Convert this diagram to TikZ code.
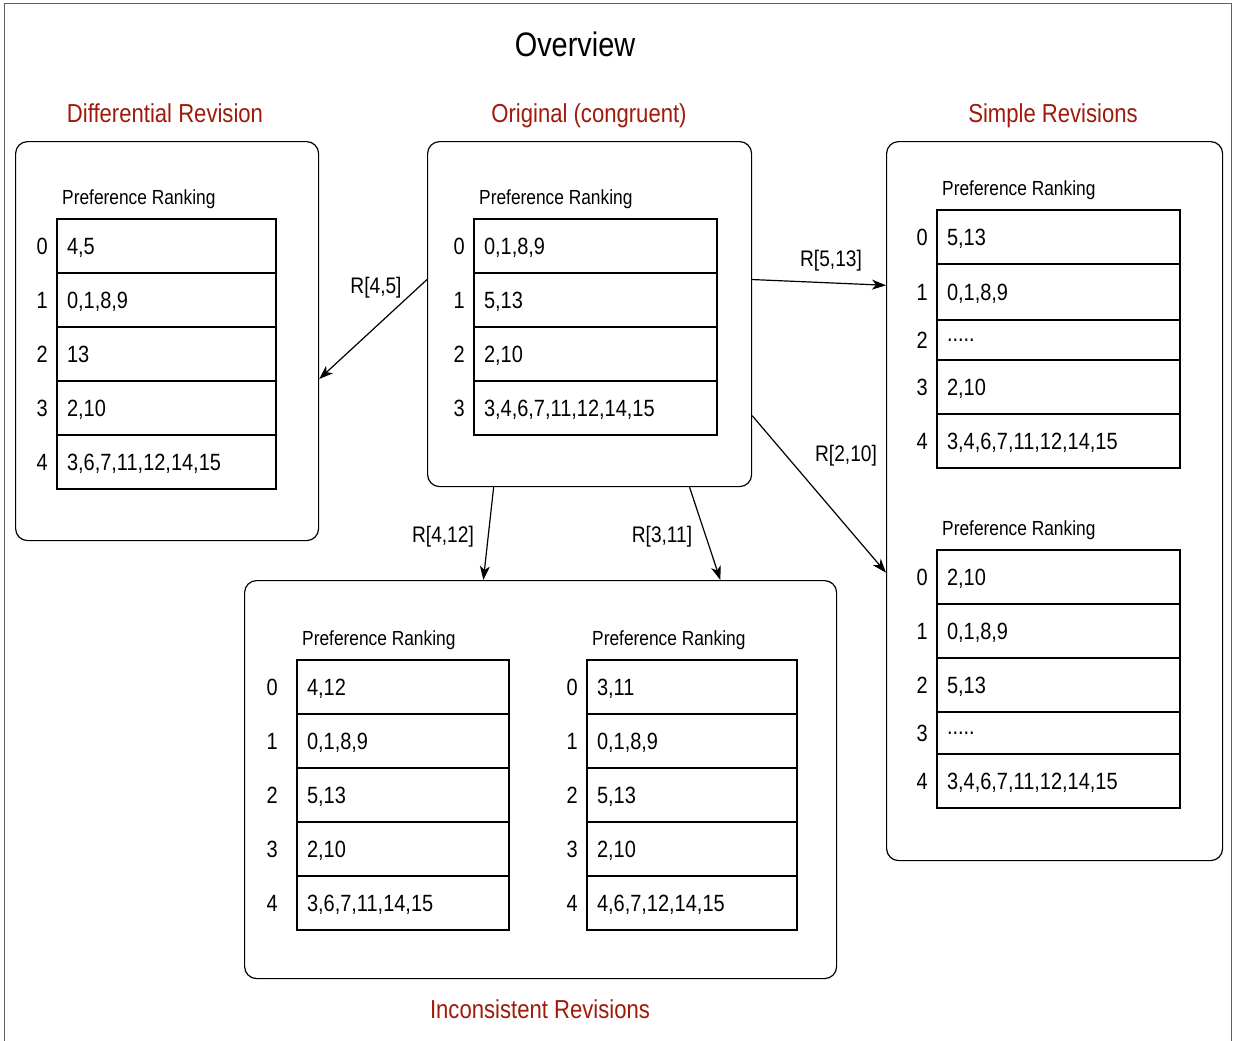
\documentclass[tikz,border=0pt]{standalone}
\usepackage{fontspec}
\setmainfont{Liberation Sans}[FakeStretch=0.85]
\usepackage{tikz}
\usetikzlibrary{positioning,arrows.meta}

\definecolor{titlered}{RGB}{160,25,10}
\definecolor{framegray}{RGB}{95,95,95}

\tikzset{
  frame/.style={draw=framegray, line width=1pt},
  heading/.style={inner sep=0pt, anchor=base, font=\fontsize{34}{40}\selectfont},
  section/.style={inner sep=0pt, anchor=base, text=titlered, font=\fontsize{26}{30}\selectfont},
  panel/.style={draw, rounded corners=12pt, line width=1.2pt, anchor=north west, inner sep=0pt},
  cell/.style={draw, line width=1.3pt, outer sep=0pt, anchor=north west, inner xsep=10pt, inner ysep=0pt,
    text width=#1, text depth=0pt, align=left, minimum height=54pt, font=\fontsize{23.5}{28}\selectfont},
  idx/.style={inner sep=0pt, font=\fontsize{23.5}{28}\selectfont},
  caption/.style={inner sep=0pt, font=\fontsize{20.4}{24}\selectfont},
  rlabel/.style={inner sep=0pt, font=\fontsize{22.5}{26}\selectfont},
  link/.style={-{Stealth[length=14pt, width=10pt, inset=4pt]}, line width=1.2pt}
}

\begin{document}
\begin{tikzpicture}[x=1pt,y=-1pt]
  \useasboundingbox (0,0) rectangle (1235,1041);
  % Frame
  \draw[frame] (4,1045) -- (4,4) -- (1231,4) -- (1231,1045);

  % Titles
  \node[heading] (overview) at (575,57) {Overview};
  \node[section] (difftitle) at (165,122) {Differential Revision};
  \node[section] (origtitle) at (589,122) {Original (congruent)};
  \node[section] (simpletitle) at (1053,122) {Simple Revisions};
  \node[section] (inctitle) at (540,1018) {Inconsistent Revisions};

  % Panels
  \node[panel, minimum width=303pt, minimum height=399pt] (diff) at (15,141) {};
  \node[panel, minimum width=324pt, minimum height=345pt] (orig) at (427,141) {};
  \node[panel, minimum width=336pt, minimum height=719pt] (simple) at (886,141) {};
  \node[panel, minimum width=592pt, minimum height=398pt] (incons) at (244,580) {};

  % Differential revision
  \node[cell=199pt] (d0) at (57,219) {4,5};
  \node[cell=199pt, below=0pt of d0] (d1) {0,1,8,9};
  \node[cell=199pt, below=0pt of d1] (d2) {13};
  \node[cell=199pt, below=0pt of d2] (d3) {2,10};
  \node[cell=199pt, below=0pt of d3] (d4) {3,6,7,11,12,14,15};
  \node[idx, left=9pt of d0] (d0n) {0};
  \node[idx, left=9pt of d1] (d1n) {1};
  \node[idx, left=9pt of d2] (d2n) {2};
  \node[idx, left=9pt of d3] (d3n) {3};
  \node[idx, left=9pt of d4] (d4n) {4};
  \node[caption, above right=10pt and 5pt of d0.north west] (dcap) {Preference Ranking};

  % Original
  \node[cell=223pt] (o0) at (474,219) {0,1,8,9};
  \node[cell=223pt, below=0pt of o0] (o1) {5,13};
  \node[cell=223pt, below=0pt of o1] (o2) {2,10};
  \node[cell=223pt, below=0pt of o2] (o3) {3,4,6,7,11,12,14,15};
  \node[idx, left=9pt of o0] (o0n) {0};
  \node[idx, left=9pt of o1] (o1n) {1};
  \node[idx, left=9pt of o2] (o2n) {2};
  \node[idx, left=9pt of o3] (o3n) {3};
  \node[caption, above right=10pt and 5pt of o0.north west] (ocap) {Preference Ranking};

  % Simple revisions, upper
  \node[cell=223pt] (sa0) at (937,210) {5,13};
  \node[cell=223pt, minimum height=56pt, below=0pt of sa0] (sa1) {0,1,8,9};
  \node[cell=223pt, minimum height=40pt, below=0pt of sa1] (sa2) {.....};
  \node[cell=223pt, below=0pt of sa2] (sa3) {2,10};
  \node[cell=223pt, below=0pt of sa3] (sa4) {3,4,6,7,11,12,14,15};
  \node[idx, left=9pt of sa0] (sa0n) {0};
  \node[idx, left=9pt of sa1] (sa1n) {1};
  \node[idx, left=9pt of sa2] (sa2n) {2};
  \node[idx, left=9pt of sa3] (sa3n) {3};
  \node[idx, left=9pt of sa4] (sa4n) {4};
  \node[caption, above right=10pt and 5pt of sa0.north west] (sacap) {Preference Ranking};

  % Simple revisions, lower
  \node[cell=223pt] (sb0) at (937,550) {2,10};
  \node[cell=223pt, below=0pt of sb0] (sb1) {0,1,8,9};
  \node[cell=223pt, below=0pt of sb1] (sb2) {5,13};
  \node[cell=223pt, minimum height=42pt, below=0pt of sb2] (sb3) {.....};
  \node[cell=223pt, below=0pt of sb3] (sb4) {3,4,6,7,11,12,14,15};
  \node[idx, left=9pt of sb0] (sb0n) {0};
  \node[idx, left=9pt of sb1] (sb1n) {1};
  \node[idx, left=9pt of sb2] (sb2n) {2};
  \node[idx, left=9pt of sb3] (sb3n) {3};
  \node[idx, left=9pt of sb4] (sb4n) {4};
  \node[caption, above right=10pt and 5pt of sb0.north west] (sbcap) {Preference Ranking};

  % Inconsistent revisions, left
  \node[cell=192pt] (ia0) at (297,660) {4,12};
  \node[cell=192pt, below=0pt of ia0] (ia1) {0,1,8,9};
  \node[cell=192pt, below=0pt of ia1] (ia2) {5,13};
  \node[cell=192pt, below=0pt of ia2] (ia3) {2,10};
  \node[cell=192pt, below=0pt of ia3] (ia4) {3,6,7,11,14,15};
  \node[idx, left=19pt of ia0] (ia0n) {0};
  \node[idx, left=19pt of ia1] (ia1n) {1};
  \node[idx, left=19pt of ia2] (ia2n) {2};
  \node[idx, left=19pt of ia3] (ia3n) {3};
  \node[idx, left=19pt of ia4] (ia4n) {4};
  \node[caption, above right=10pt and 5pt of ia0.north west] (iacap) {Preference Ranking};

  % Inconsistent revisions, right
  \node[cell=190pt] (ib0) at (587,660) {3,11};
  \node[cell=190pt, below=0pt of ib0] (ib1) {0,1,8,9};
  \node[cell=190pt, below=0pt of ib1] (ib2) {5,13};
  \node[cell=190pt, below=0pt of ib2] (ib3) {2,10};
  \node[cell=190pt, below=0pt of ib3] (ib4) {4,6,7,12,14,15};
  \node[idx, left=9pt of ib0] (ib0n) {0};
  \node[idx, left=9pt of ib1] (ib1n) {1};
  \node[idx, left=9pt of ib2] (ib2n) {2};
  \node[idx, left=9pt of ib3] (ib3n) {3};
  \node[idx, left=9pt of ib4] (ib4n) {4};
  \node[caption, above right=10pt and 5pt of ib0.north west] (ibcap) {Preference Ranking};

  % Revisions
  \draw[link] (orig.168) -- (diff.-14);
  \draw[link] (orig.12) -- (simple.128);
  \draw[link] (orig.-32) -- (simple.203);
  \draw[link] (orig.241) -- (incons.106);
  \draw[link] (orig.-60) -- (incons.48);
  \node[rlabel] (r45) at (376,288) {R[4,5]};
  \node[rlabel] (r513) at (831,261) {R[5,13]};
  \node[rlabel] (r210) at (846,456) {R[2,10]};
  \node[rlabel] (r412) at (443,537) {R[4,12]};
  \node[rlabel] (r311) at (662,537) {R[3,11]};
\end{tikzpicture}
\end{document}
